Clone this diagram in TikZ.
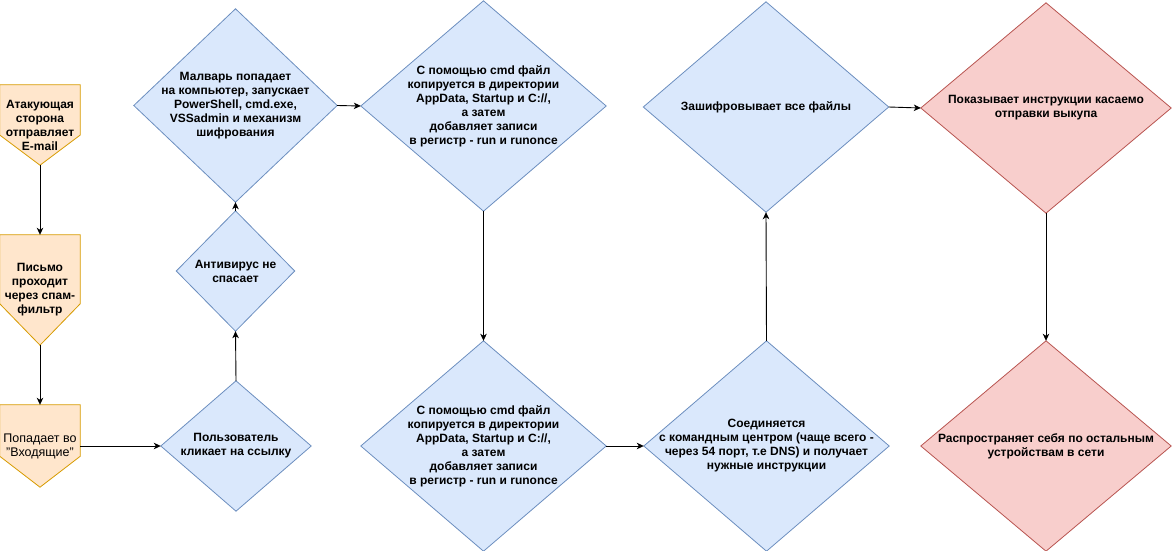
\documentclass[tikz,border=0pt]{standalone}
\usepackage{fontspec}
\setmainfont{Liberation Sans}
\usetikzlibrary{arrows.meta,calc,backgrounds}
\definecolor{bfill}{HTML}{DAE8FC}
\definecolor{bline}{HTML}{6C8EBF}
\definecolor{ofill}{HTML}{FFE6CC}
\definecolor{oline}{HTML}{D79B00}
\definecolor{rfill}{HTML}{F8CECC}
\definecolor{rline}{HTML}{B85450}
\tikzset{
  box/.style={draw=none,inner sep=0pt,align=center,font=\fontsize{12}{14}\selectfont\bfseries},
  reg/.style={font=\fontsize{12.5}{14}\selectfont},
  blueshape/.style={fill=bfill,draw=bline,line width=0.8pt},
  orangeshape/.style={fill=ofill,draw=oline,line width=0.8pt},
  redshape/.style={fill=rfill,draw=rline,line width=0.8pt},
  conn/.style={draw=black,line width=0.9pt,-{Stealth[length=7pt,width=6.5pt,inset=2pt]}}
}
\newcommand{\mydiamond}[2]{\path[#2] (#1.north)--(#1.east)--(#1.south)--(#1.west)--cycle;}
\newcommand{\myoffpage}[2]{\path[#2] (#1.north west)--(#1.north east)--($(#1.north east)!0.625!(#1.south east)$)--(#1.south)--($(#1.north west)!0.625!(#1.south west)$)--cycle;}
\begin{document}
\begin{tikzpicture}[x=1pt,y=-1pt]
\useasboundingbox (0,0) rectangle (1172,551);
% off-page connectors
\node[box,minimum width=80pt,minimum height=80pt] (o1) at (40,125) {Атакующая\\сторона\\отправляет\\E-mail};
\node[box,minimum width=80pt,minimum height=110pt] (o2) at (40,290) {Письмо\\проходит\\через спам-\\фильтр};
\node[box,reg,text=black,minimum width=80pt,minimum height=82pt] (o3) at (40,446) {Попадает во\\"Входящие"};
% diamonds
\node[box,minimum width=150pt,minimum height=130pt] (d1) at (236,446) {Пользователь\\кликает на ссылку};
\node[box,minimum width=118pt,minimum height=120pt] (d2) at (235.5,271) {Антивирус не\\спасает};
\node[box,minimum width=203pt,minimum height=193pt] (d3) at (235.5,105.5) {Малварь попадает\\на компьютер, запускает\\PowerShell, cmd.exe,\\VSSadmin и механизм\\шифрования};
\node[box,minimum width=245pt,minimum height=210pt] (d4) at (483.5,106) {С помощью cmd файл\\копируется в директории\\AppData, Startup и C://,\\а затем\\добавляет записи\\в регистр - run и runonce};
\node[box,minimum width=245pt,minimum height=210pt] (d5) at (483.5,446) {С помощью cmd файл\\копируется в директории\\AppData, Startup и C://,\\а затем\\добавляет записи\\в регистр - run и runonce};
\node[box,minimum width=245pt,minimum height=210pt] (d6) at (766.5,446) {Соединяется\\с командным центром (чаще всего -\\через 54 порт, т.е DNS) и получает\\нужные инструкции};
\node[box,minimum width=245pt,minimum height=210pt] (d7) at (766,107) {Зашифровывает все файлы};
\node[box,minimum width=250pt,minimum height=210pt] (d8) at (1046,108) {Показывает инструкции касаемо\\отправки выкупа};
\node[box,minimum width=250pt,minimum height=210pt] (d9) at (1046,446) {Распространяет себя по остальным\\устройствам в сети};
\begin{scope}[on background layer]
\myoffpage{o1}{orangeshape}
\myoffpage{o2}{orangeshape}
\myoffpage{o3}{orangeshape}
\mydiamond{d1}{blueshape}
\mydiamond{d2}{blueshape}
\mydiamond{d3}{blueshape}
\mydiamond{d4}{blueshape}
\mydiamond{d5}{blueshape}
\mydiamond{d6}{blueshape}
\mydiamond{d7}{blueshape}
\mydiamond{d8}{redshape}
\mydiamond{d9}{redshape}
\end{scope}
% connectors
\draw[conn] (o1.south) -- (o2.north);
\draw[conn] (o2.south) -- (o3.north);
\draw[conn] (o3.east) -- (d1.west);
\draw[conn] (d1.north) -- (d2.south);
\draw[conn] (d2.north) -- (d3.south);
\draw[conn] (d3.east) -- (d4.west);
\draw[conn] (d4.south) -- (d5.north);
\draw[conn] (d5.east) -- (d6.west);
\draw[conn] (d6.north) -- (d7.south);
\draw[conn] (d7.east) -- (d8.west);
\draw[conn] (d8.south) -- (d9.north);
\end{tikzpicture}
\end{document}
